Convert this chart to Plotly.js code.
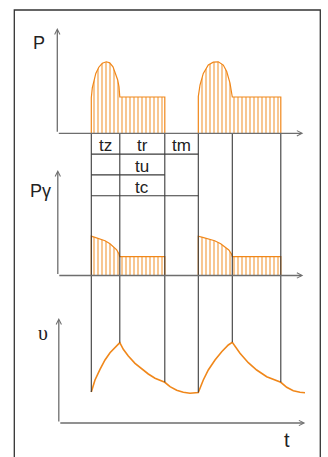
<!DOCTYPE html>
<html lang="en">
<head>
<meta charset="utf-8">
<title>P, Py, v over t</title>
<script src="https://cdn.plot.ly/plotly-3.0.1.min.js"></script>
<style>
  body { margin: 0; background: #fff; }
  #chart { width: 328px; height: 457px; }
</style>
</head>
<body>
<div id="chart"></div>
<script>
// phase boundaries on the time axis (start tz, end tz, end tr, end tm, ...)
var tA = [0, 2.85, 7.35, 10.7, 14.1, 18.95];

// table rows
var row1 = ['tz', 'tr', 'tm'];
var row2 = 'tu';
var row3 = 'tc';

// P (power) - two cycles, null between them
var pX = [0, 0, 0.1, 0.25, 0.45, 0.75, 1.1, 1.5, 1.84, 2.17, 2.44, 2.64, 2.77, 2.85, 7.35, 7.35, null,
          10.7, 10.7, 10.87, 11.2, 11.7, 12.2, 12.7, 13.2, 13.54, 13.87, 14.1, 18.95, 18.95];
var pY = [0, 0.98, 1.25, 1.45, 1.65, 1.82, 1.93, 1.97, 1.94, 1.83, 1.65, 1.47, 1.28, 1.0, 1.0, 0, null,
          0, 1.01, 1.33, 1.65, 1.88, 1.96, 1.97, 1.88, 1.70, 1.38, 1.0, 1.0, 0];

// P gamma
var gX = [0, 0, 0.37, 0.87, 1.37, 1.87, 2.2, 2.54, 2.77, 2.85, 7.35, 7.35, null,
          10.7, 10.7, 11.14, 11.74, 12.34, 12.94, 13.34, 13.75, 14.02, 14.1, 18.95, 18.95];
var gY = [0, 2.09, 2.03, 1.96, 1.85, 1.69, 1.55, 1.36, 1.14, 1.0, 1.0, 0, null,
          0, 2.09, 2.03, 1.96, 1.85, 1.69, 1.55, 1.36, 1.14, 1.0, 1.0, 0];

// v (speed)
var vX = [0, 0.37, 0.87, 1.37, 1.87, 2.37, 2.85, 3.2, 3.7, 4.37, 5.04, 5.7, 6.37, 7.35, 7.87, 8.54, 9.2, 9.87,
          10.7, 11.2, 11.7, 12.37, 13.04, 13.7, 14.1, 14.87, 15.7, 16.54, 17.54, 18.95, 19.54, 20.2, 20.87, 21.37];
var vY = [3.1, 4.3, 5.37, 6.3, 7.03, 7.57, 8.03, 7.37, 6.7, 5.97, 5.4, 4.9, 4.47, 4.07, 3.63, 3.27, 3.07, 2.97,
          3.05, 4.3, 5.3, 6.3, 7.13, 7.8, 8.07, 6.97, 6.03, 5.3, 4.63, 4.07, 3.57, 3.23, 3.07, 3.03];

var orange = '#f0871a';
var hatch = '#f39a3a';
var ink = '#222';
var fnt = 'Liberation Sans, Arial, sans-serif';

var domP = [0.7083, 0.9387], rngP = [0, 2.9];
var domG = [0.3972, 0.628],  rngG = [0, 5.61];
var domV = [0.0744, 0.3042], rngV = [0, 10.5];

function vToPaper(v) {
  return domV[0] + (v - rngV[0]) / (rngV[1] - rngV[0]) * (domV[1] - domV[0]);
}

var traces = [
  {x: pX, y: pY, xaxis: 'x', yaxis: 'y', mode: 'lines', fill: 'tozeroy',
   line: {color: orange, width: 1.2},
   fillpattern: {shape: '|', size: 4, solidity: 0.28, fgcolor: hatch, bgcolor: 'rgba(255,255,255,0)'},
   fillcolor: 'rgba(255,255,255,0)', hoverinfo: 'skip'},
  {x: gX, y: gY, xaxis: 'x', yaxis: 'y2', mode: 'lines', fill: 'tozeroy',
   line: {color: orange, width: 1.2},
   fillpattern: {shape: '|', size: 4, solidity: 0.28, fgcolor: hatch, bgcolor: 'rgba(255,255,255,0)'},
   fillcolor: 'rgba(255,255,255,0)', hoverinfo: 'skip'},
  {x: vX, y: vY, xaxis: 'x', yaxis: 'y3', mode: 'lines',
   line: {color: orange, width: 1.6}, hoverinfo: 'skip'}
];

var shapes = [];
// frame
shapes.push({type: 'rect', xref: 'paper', yref: 'paper', x0: 0.0436, x1: 0.9765, y0: -0.05, y1: 0.9781,
             line: {color: '#333', width: 1.3}});
// vertical phase lines, from P baseline down to the v curve
tA.forEach(function (t) {
  var v = vY[vX.indexOf(t)];
  shapes.push({type: 'line', xref: 'x', yref: 'paper', x0: t, x1: t, y0: vToPaper(v), y1: domP[0],
               line: {color: '#3a3a3a', width: 1.1}});
});
// table rows
var rowH = 0.0455;
var tTop = domP[0];
[[tA[3], 1], [tA[2], 2], [tA[3], 3]].forEach(function (r) {
  shapes.push({type: 'line', xref: 'x', yref: 'paper', x0: tA[0], x1: r[0],
               y0: tTop - r[1] * rowH, y1: tTop - r[1] * rowH,
               line: {color: '#3a3a3a', width: 1.1}});
});

var ann = [];
function txt(x, y, s, xref, yref, size, extra) {
  var a = {x: x, y: y, xref: xref, yref: yref, text: s, showarrow: false,
           font: {family: fnt, size: size, color: ink}, xanchor: 'center', yanchor: 'middle'};
  for (var k in extra) a[k] = extra[k];
  ann.push(a);
}
row1.forEach(function (s, i) {
  txt((tA[i] + tA[i + 1]) / 2, tTop - 0.5 * rowH, s, 'x', 'paper', 17, {yshift: -2});
});
txt((tA[1] + tA[2]) / 2, tTop - 1.5 * rowH, row2, 'x', 'paper', 17, {yshift: -2});
txt((tA[1] + tA[2]) / 2, tTop - 2.5 * rowH, row3, 'x', 'paper', 17, {yshift: -2});

// axis arrows
function axes(yref, xl, xr, ytop) {
  var base = {xref: 'x', yref: yref, axref: 'x', ayref: yref, showarrow: true, text: '',
              arrowhead: 5, arrowsize: 0.8, arrowwidth: 1.3, arrowcolor: '#6e6e6e'};
  ann.push(Object.assign({}, base, {x: xr, y: 0, ax: xl, ay: 0}));
  ann.push(Object.assign({}, base, {x: xl, y: ytop, ax: xl, ay: 0}));
}
axes('y', -3.4, 21.2, rngP[1]);
axes('y2', -3.35, 21.2, rngG[1]);
axes('y3', -3.25, 21.4, rngV[1]);

// axis names
txt(-5.25, 2.5, 'P', 'x', 'y', 18, {});
txt(-5.1, 4.5, 'Pγ', 'x', 'y2', 18, {});
ann.push({x: -4.8, y: 9.0, xref: 'x', yref: 'y3', text: 'υ', showarrow: false,
          font: {family: 'Liberation Serif, DejaVu Serif, serif', size: 20, color: ink}});
txt(19.6, vToPaper(-1.7), 't', 'x', 'paper', 20, {});

var hid = {visible: false, fixedrange: true};
var layout = {
  width: 328, height: 457,
  margin: {l: 0, r: 0, t: 0, b: 0},
  paper_bgcolor: '#fff', plot_bgcolor: 'rgba(0,0,0,0)',
  showlegend: false,
  xaxis: Object.assign({range: [-9.13, 23.67]}, hid),
  yaxis: Object.assign({domain: domP, range: rngP}, hid),
  yaxis2: Object.assign({domain: domG, range: rngG, anchor: 'x'}, hid),
  yaxis3: Object.assign({domain: domV, range: rngV, anchor: 'x'}, hid),
  shapes: shapes,
  annotations: ann
};

Plotly.newPlot('chart', traces, layout, {staticPlot: true, displayModeBar: false});
</script>
</body>
</html>
